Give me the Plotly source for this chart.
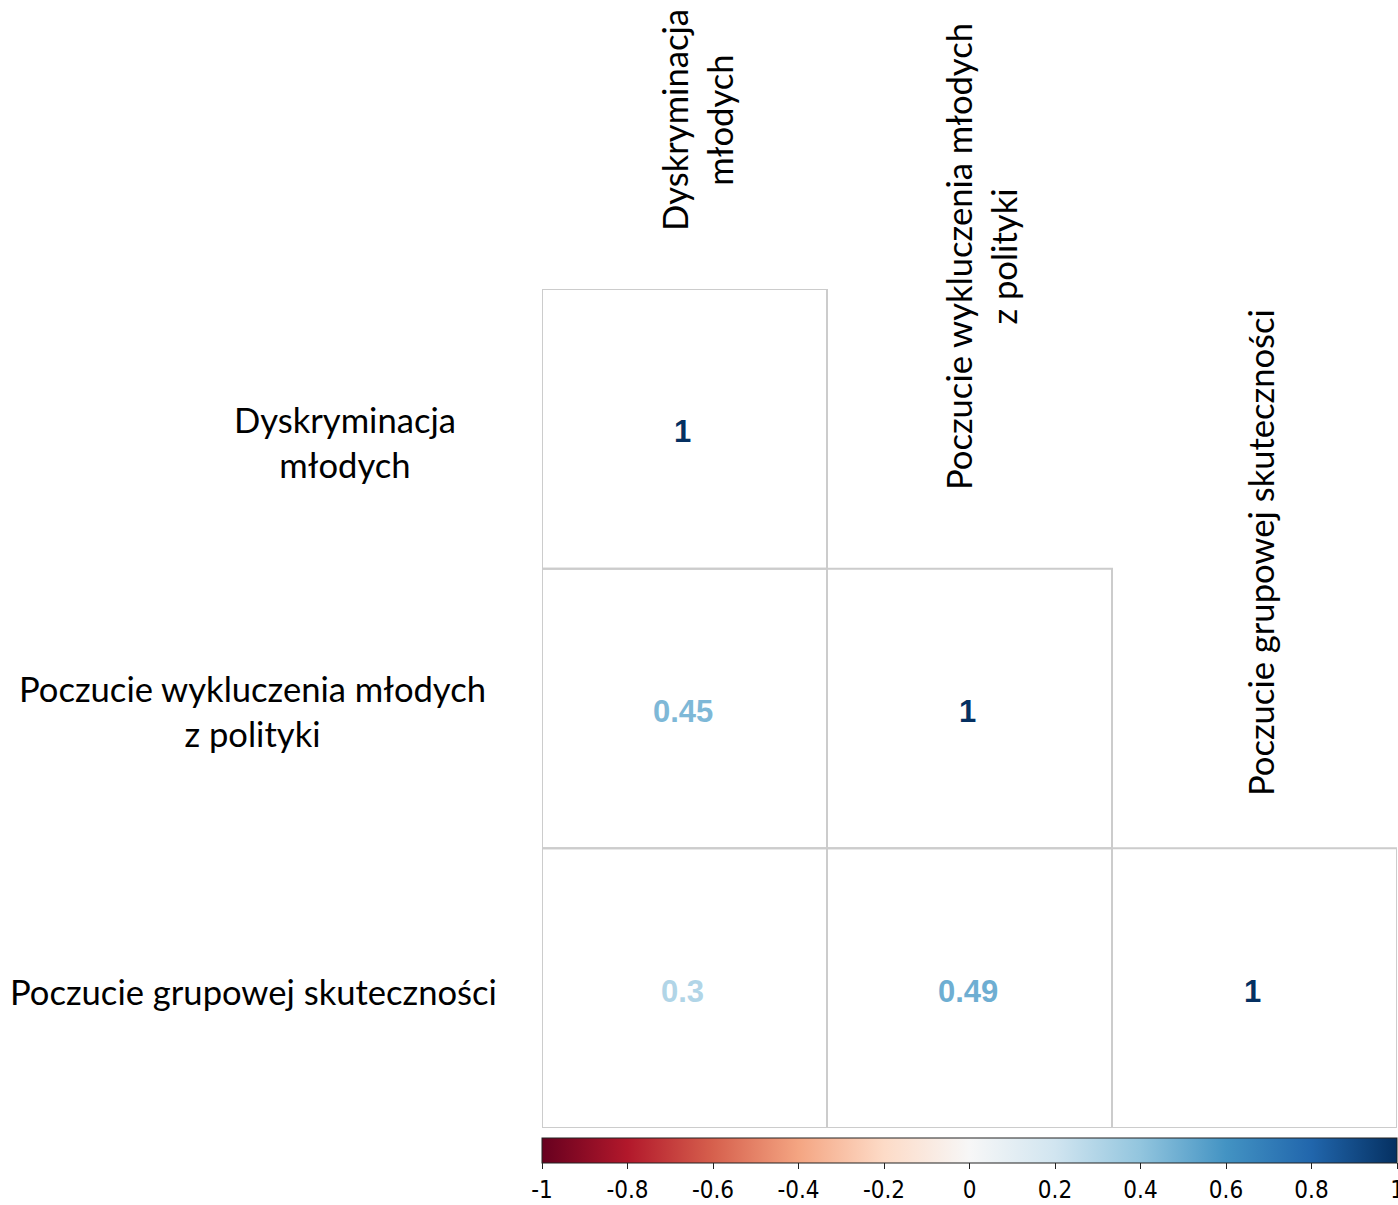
import plotly.graph_objects as go
from plotly.colors import diverging, sample_colorscale

# ---- data ----
variables = ["Dyskryminacja<br>młodych",
             "Poczucie wykluczenia młodych<br>z polityki",
             "Poczucie grupowej skuteczności"]
corr = [[1.00, None, None],
        [0.45, 1.00, None],
        [0.30, 0.49, 1.00]]
cbar_ticks = [-1, -0.8, -0.6, -0.4, -0.2, 0, 0.2, 0.4, 0.6, 0.8, 1]
cbar_ticklabels = ["-1", "-0.8", "-0.6", "-0.4", "-0.2", "0", "0.2", "0.4", "0.6", "0.8", "1"]

W, H = 1398, 1205
rdbu = diverging.RdBu  # colorbrewer red -> blue
cscale = [[i / (len(rdbu) - 1), c] for i, c in enumerate(rdbu)]

def px(xp):
    return xp / W

def py(yp):
    return 1 - yp / H

n = len(variables)
fig = go.Figure()

# cell borders (lower triangle)
shapes = []
for i in range(n):
    for j in range(n):
        if corr[i][j] is None:
            continue
        shapes.append(dict(type="rect", xref="x", yref="y", x0=j, x1=j + 1, y0=i, y1=i + 1,
                           line=dict(color="#cccccc", width=2), fillcolor="rgba(0,0,0,0)",
                           layer="below"))

annotations = []
# correlation numbers, coloured by value
for i in range(n):
    for j in range(n):
        v = corr[i][j]
        if v is None:
            continue
        col = sample_colorscale(cscale, [(v + 1) / 2])[0]
        annotations.append(dict(text=f"<b>{v:g}</b>", xref="x", yref="y", x=j + 0.5, y=i + 0.5,
                                xanchor="center", yanchor="middle", showarrow=False, yshift=-3,
                                xshift=-2,
                                font=dict(family="Liberation Sans", size=31, color=col)))

# colorbar via invisible trace
fig.add_trace(go.Scatter(x=[None], y=[None], mode="markers", showlegend=False, hoverinfo="skip",
                         marker=dict(color=[0], colorscale=cscale, cmin=-1, cmax=1, size=0,
                                     showscale=True,
                                     colorbar=dict(orientation="h", x=px((542 + 1397) / 2), xanchor="center",
                                                   len=855 / W, lenmode="fraction",
                                                   y=py(1138), yanchor="top", thickness=25,
                                                   xpad=0, ypad=0,
                                                   outlinecolor="#222222", outlinewidth=1,
                                                   ticks="outside", ticklen=6, tickcolor="#222222",
                                                   tickvals=cbar_ticks, ticktext=cbar_ticklabels,
                                                   ticklabeloverflow="allow",
                                                   tickfont=dict(family="Liberation Sans Narrow, DejaVu Sans Condensed, Liberation Sans",
                                                                 size=24, color="black")))))

label_font = dict(family="Lato", size=34.6, color="black")
# row labels (centre positions in pixels)
row_label_x = [345, 252, 253]
row_label_y = [442, 711, 991]
for i, name in enumerate(variables):
    annotations.append(dict(text=name, xref="paper", yref="paper", x=px(row_label_x[i]), y=py(row_label_y[i]),
                            xanchor="center", yanchor="middle", showarrow=False, align="center",
                            font=label_font))
# column labels (rotated)
col_label_x = [697, 981, 1261]
col_label_y = [120, 257, 553]
for j, name in enumerate(variables):
    annotations.append(dict(text=name, xref="paper", yref="paper", x=px(col_label_x[j]), y=py(col_label_y[j]),
                            xanchor="center", yanchor="middle", showarrow=False, align="center",
                            textangle=-90, font=label_font))

fig.update_layout(
    width=W, height=H, margin=dict(l=0, r=0, t=0, b=0),
    paper_bgcolor="white", plot_bgcolor="white",
    xaxis=dict(range=[0, n], domain=[px(542), px(1397)], visible=False, fixedrange=True),
    yaxis=dict(range=[n, 0], domain=[py(1128), py(289)], visible=False, fixedrange=True),
    shapes=shapes, annotations=annotations, showlegend=False,
)

fig.write_html("out.html", config={"displayModeBar": False},
               post_script="document.documentElement.style.overflow='hidden';"
                           "document.body.style.margin='0';document.body.style.overflow='hidden';")
